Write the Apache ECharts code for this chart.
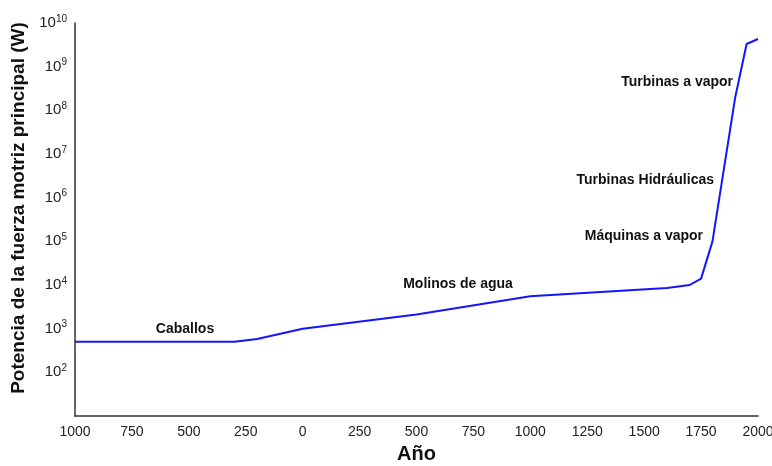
<!DOCTYPE html>
<html>
<head>
<meta charset="utf-8">
<script src="https://cdn.jsdelivr.net/npm/echarts@6/dist/echarts.min.js"></script>
<style>html,body{margin:0;padding:0;background:#fff}#c{width:772px;height:466px}</style>
</head>
<body>
<div id="c"></div>
<script>
// Data (year, power in W)
const years  = [-1000, -300, -200, 0, 500, 1000, 1600, 1700, 1750, 1800, 1900, 1950, 2000];
const powers = [500, 500, 580, 1000, 2100, 5500, 8500, 10000, 14000, 100000, 2e8, 3.3e9, 4.3e9];
const xTicks = [-1000, -750, -500, -250, 0, 250, 500, 750, 1000, 1250, 1500, 1750, 2000];
const annotations = ["Caballos", "Molinos de agua", "Máquinas a vapor", "Turbinas Hidráulicas", "Turbinas a vapor"];

const FONT = '"Liberation Sans", Arial, sans-serif';
const chart = echarts.init(document.getElementById('c'), null, {renderer: 'canvas'});
const data = years.map((y, i) => [y, powers[i]]);

chart.setOption({
  animation: false,
  backgroundColor: '#fff',
  grid: {left: 75, right: 14, top: 23, bottom: 50, containLabel: false, outerBoundsMode: 'none'},
  xAxis: {
    type: 'value', min: xTicks[0], max: xTicks[xTicks.length - 1], interval: 250,
    name: 'Año', nameLocation: 'middle', nameGap: 28,
    nameTextStyle: {fontFamily: FONT, fontSize: 20, fontWeight: 'bold', color: '#111'},
    axisLine: {onZero: false, lineStyle: {color: '#333', width: 1.5}},
    axisTick: {show: false},
    splitLine: {show: false},
    axisLabel: {fontFamily: FONT, fontSize: 14, color: '#222', margin: 9,
      formatter: v => String(Math.abs(v))}
  },
  yAxis: {
    type: 'log', logBase: 10, min: 10, max: 1e10, interval: 1,
    axisLine: {show: true, onZero: false, lineStyle: {color: '#333', width: 1.5}},
    axisTick: {show: false},
    splitLine: {show: false},
    axisLabel: {
      margin: 8,
      formatter: v => {
        const e = Math.round(Math.log10(v));
        if (e <= 1) return '';
        return '{b|10}{s|' + e + '}';
      },
      rich: {
        b: {fontFamily: FONT, fontSize: 15, color: '#222', lineHeight: 18, verticalAlign: 'middle'},
        s: {fontFamily: FONT, fontSize: 10, color: '#222', lineHeight: 10, verticalAlign: 'top'}
      }
    }
  },
  series: [{
    type: 'line', data: data, symbol: 'none',
    lineStyle: {color: '#1414ff', width: 2}
  }],
  graphic: [
    {type: 'text', rotation: Math.PI / 2, x: 19, y: 208,
      style: {text: 'Potencia de la fuerza motriz principal (W)', fontFamily: FONT, fontSize: 19, fontWeight: 'bold', fill: '#111', textAlign: 'center', textVerticalAlign: 'middle'}},
    {type: 'text', x: 185, y: 329, style: {text: annotations[0], fontFamily: FONT, fontSize: 14, fontWeight: 'bold', fill: '#111', textAlign: 'center', textVerticalAlign: 'middle'}},
    {type: 'text', x: 458, y: 284, style: {text: annotations[1], fontFamily: FONT, fontSize: 14, fontWeight: 'bold', fill: '#111', textAlign: 'center', textVerticalAlign: 'middle'}},
    {type: 'text', x: 703, y: 236, style: {text: annotations[2], fontFamily: FONT, fontSize: 14, fontWeight: 'bold', fill: '#111', textAlign: 'right', textVerticalAlign: 'middle'}},
    {type: 'text', x: 714, y: 180, style: {text: annotations[3], fontFamily: FONT, fontSize: 14, fontWeight: 'bold', fill: '#111', textAlign: 'right', textVerticalAlign: 'middle'}},
    {type: 'text', x: 733, y: 82, style: {text: annotations[4], fontFamily: FONT, fontSize: 14, fontWeight: 'bold', fill: '#111', textAlign: 'right', textVerticalAlign: 'middle'}}
  ]
});
</script>
</body>
</html>
